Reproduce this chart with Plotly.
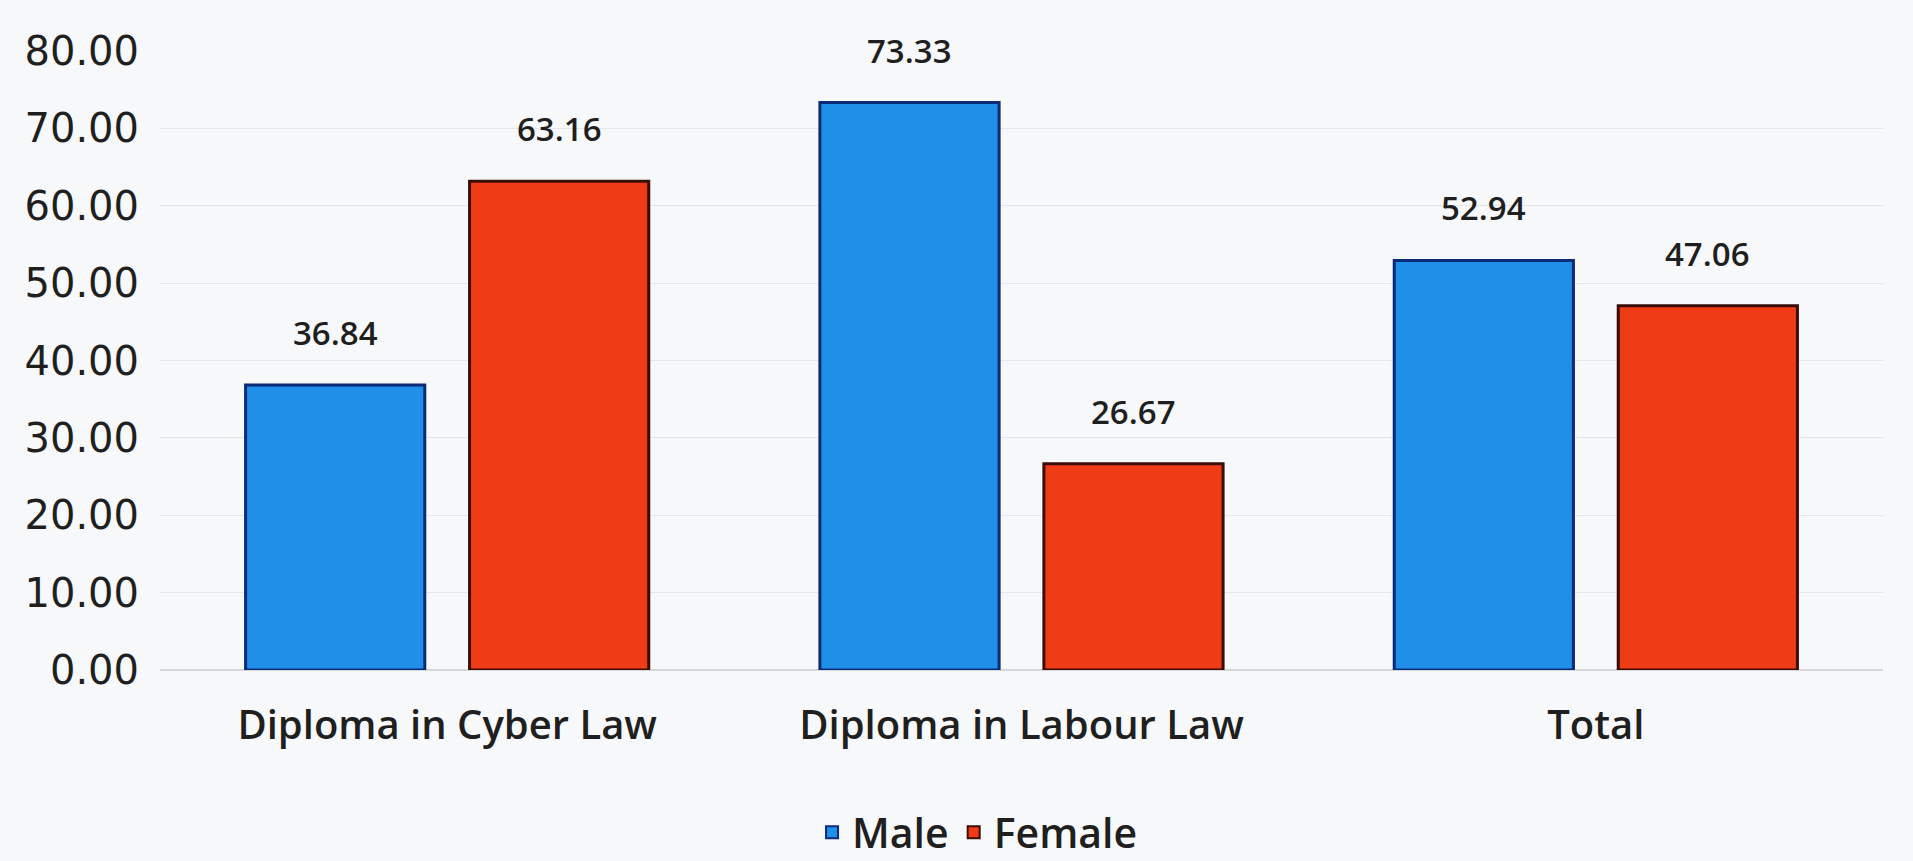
import plotly.graph_objects as go

# Share of students by gender in each diploma programme (%)
categories = ["Diploma in Cyber Law", "Diploma in Labour Law", "Total"]
male = [36.84, 73.33, 52.94]
female = [63.16, 26.67, 47.06]
y_ticks = [0, 10, 20, 30, 40, 50, 60, 70, 80]

series = [
    ("Male", male, "#1f8fe8", "#0b2a78", -112),
    ("Female", female, "#f03c16", "#3a0c06", 112),
]

text_color = "#1f1f1f"

fig = go.Figure()
annotations = []
for name, vals, fill, edge, shift in series:
    fig.add_trace(go.Bar(
        name=name,
        x=categories,
        y=vals,
        marker=dict(color=fill, line=dict(color=edge, width=3)),
    ))
    for cat, v in zip(categories, vals):
        annotations.append(dict(
            x=cat, y=v, xref="x", yref="y",
            text=f"{v:.2f}", showarrow=False,
            xshift=shift, yshift=28, yanchor="bottom",
            font=dict(family="Open Sans", size=33, color=text_color, weight=600),
        ))

fig.update_layout(
    width=1913,
    height=861,
    margin=dict(l=160, r=30, t=51, b=191),
    paper_bgcolor="#f7f8fa",
    plot_bgcolor="#f7f8fa",
    barmode="group",
    bargap=0.22,
    bargroupgap=0.2,
    annotations=annotations,
    showlegend=True,
    legend=dict(
        orientation="h",
        xref="container", yref="container",
        x=0.511, y=0.033, xanchor="center", yanchor="middle",
        font=dict(family="Open Sans", size=41, color=text_color, weight=600),
        itemsizing="constant",
        itemwidth=30,
        traceorder="normal",
    ),
    font=dict(family="Open Sans", color=text_color),
)

fig.update_yaxes(
    range=[0, 80],
    tickvals=y_ticks,
    tickformat=".2f",
    showgrid=True,
    gridcolor="#e4e6ea",
    gridwidth=1,
    zeroline=True,
    zerolinecolor="#d5d7db",
    zerolinewidth=2,
    showline=False,
    ticks="",
    ticklabelstandoff=20,
    tickfont=dict(family="DejaVu Sans", size=40, color=text_color),
)
fig.update_xaxes(
    showline=False,
    ticks="",
    ticklabelstandoff=28,
    tickfont=dict(family="Open Sans", size=40, color=text_color, weight=600),
)

fig.write_html("out.html")
